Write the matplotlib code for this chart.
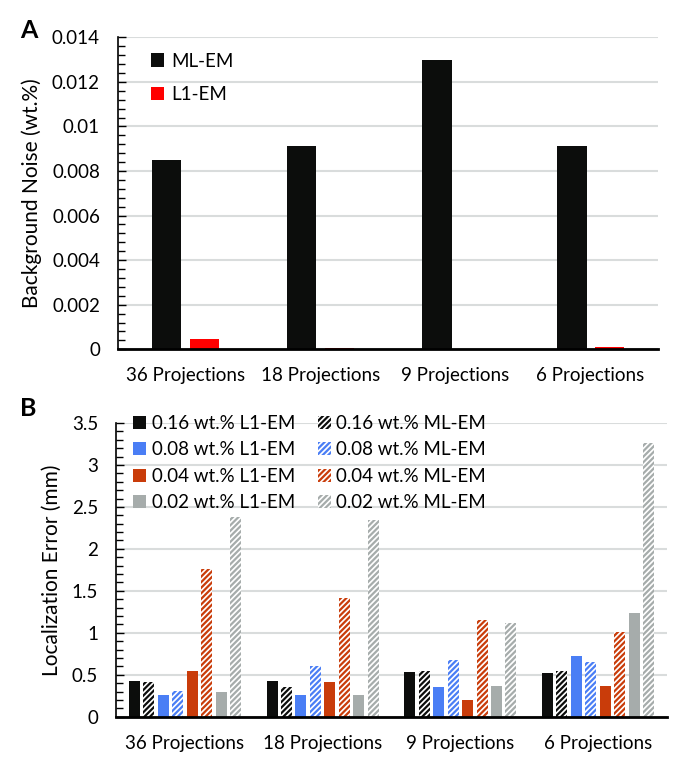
import matplotlib
matplotlib.use('Agg')

import matplotlib.pyplot as plt
import numpy as np
from matplotlib.ticker import MultipleLocator
from matplotlib.patches import Patch

plt.rcParams['font.family'] = ['Lato', 'DejaVu Sans']
plt.rcParams['hatch.linewidth'] = 1.6

# data
projections = ['36 Projections', '18 Projections', '9 Projections', '6 Projections']

noise_mlem = [0.0085, 0.0091, 0.0130, 0.0091]
noise_l1em = [0.00048, 0.00008, 0.0, 0.00012]

conc_labels = ['0.16 wt.%', '0.08 wt.%', '0.04 wt.%', '0.02 wt.%']
conc_colors = ['#0c0d0c', '#4a7ef5', '#c93c0a', '#a6acab']
err_l1em = [
    [0.42, 0.42, 0.53, 0.52],   # 0.16
    [0.26, 0.26, 0.36, 0.72],   # 0.08
    [0.55, 0.41, 0.20, 0.37],   # 0.04
    [0.30, 0.26, 0.37, 1.24],   # 0.02
]
err_mlem = [
    [0.41, 0.35, 0.55, 0.54],
    [0.31, 0.60, 0.67, 0.65],
    [1.76, 1.41, 1.15, 1.01],
    [2.38, 2.34, 1.12, 3.26],
]

grid_color = '#d9dcdc'
fs = 13.5
hatch = '//////'

fig = plt.figure(figsize=(6.75, 7.59), dpi=100)


def style_axis(ax):
    for s in ['top', 'right']:
        ax.spines[s].set_visible(False)
    ax.spines['left'].set_linewidth(1.2)
    ax.spines['bottom'].set_linewidth(2.0)
    ax.tick_params(axis='y', which='both', direction='in', labelsize=fs, pad=13)
    ax.tick_params(axis='y', which='major', length=6, width=1)
    ax.tick_params(axis='y', which='minor', length=5, width=1)
    ax.tick_params(axis='x', length=0, labelsize=fs, pad=13)
    ax.yaxis.grid(True, which='major', color=grid_color, linewidth=1.5)
    ax.set_axisbelow(True)


# ---- panel A ----
ax1 = fig.add_axes([0.1748, 0.5398, 0.8002, 0.4111])
x = np.arange(len(projections))
w = 0.22
ax1.bar(x - 0.14, noise_mlem, w, color='#0c0d0c', label='ML-EM')
ax1.bar(x + 0.14, noise_l1em, w, color='#ff0000', label='L1-EM')
ax1.set_xlim(-0.5, 3.5)
ax1.set_ylim(0, 0.014)
ax1.yaxis.set_major_locator(MultipleLocator(0.002))
ax1.yaxis.set_minor_locator(MultipleLocator(0.0004))
ax1.set_yticks(np.arange(0, 0.0141, 0.002))
ax1.set_yticklabels(['0', '0.002', '0.004', '0.006', '0.008', '0.01', '0.012', '0.014'])
ax1.set_xticks(x)
ax1.set_xticklabels(projections)
style_axis(ax1)
ax1.set_ylabel('Background Noise (wt.%)', fontsize=fs + 1.5, labelpad=7)
ax1.legend(loc='upper left', frameon=False, fontsize=fs, handlelength=0.7,
           handleheight=0.7, handletextpad=0.4, labelspacing=0.9,
           bbox_to_anchor=(0.03, 1.005))
fig.text(0.03, 0.96, 'A', fontsize=18, fontweight='bold', va='center')

# ---- panel B ----
ax2 = fig.add_axes([0.172, 0.0557, 0.816, 0.387])
bw = 0.08
pitch = 0.105
handles_l1, handles_ml = [], []
for i in range(4):
    off_l1 = (2 * i - 3.5) * pitch
    off_ml = (2 * i + 1 - 3.5) * pitch
    ax2.bar(x + off_l1, err_l1em[i], bw, color=conc_colors[i], linewidth=0)
    ax2.bar(x + off_ml, err_mlem[i], bw, facecolor='white', edgecolor=conc_colors[i],
            hatch=hatch, linewidth=0)
    handles_l1.append(Patch(facecolor=conc_colors[i], linewidth=0,
                            label=conc_labels[i] + ' L1-EM'))
    handles_ml.append(Patch(facecolor='white', edgecolor=conc_colors[i], hatch=hatch,
                            linewidth=0, label=conc_labels[i] + ' ML-EM'))
ax2.set_xlim(-0.5, 3.5)
ax2.set_ylim(0, 3.5)
ax2.yaxis.set_major_locator(MultipleLocator(0.5))
ax2.yaxis.set_minor_locator(MultipleLocator(0.1))
ax2.set_yticks(np.arange(0, 3.51, 0.5))
ax2.set_yticklabels(['0', '0.5', '1', '1.5', '2', '2.5', '3', '3.5'])
ax2.set_xticks(x)
ax2.set_xticklabels(projections)
style_axis(ax2)
ax2.set_ylabel('Localization Error (mm)', fontsize=fs + 1.5, labelpad=7)
ax2.legend(handles=handles_l1 + handles_ml, ncol=2, loc='upper left', frameon=False,
           fontsize=fs, handlelength=0.7, handleheight=0.7, handletextpad=0.3,
           labelspacing=0.5, columnspacing=1.2, bbox_to_anchor=(0.0, 1.085))
fig.text(0.03, 0.462, 'B', fontsize=18, fontweight='bold', va='center')

fig.savefig('out.png', dpi=100)
